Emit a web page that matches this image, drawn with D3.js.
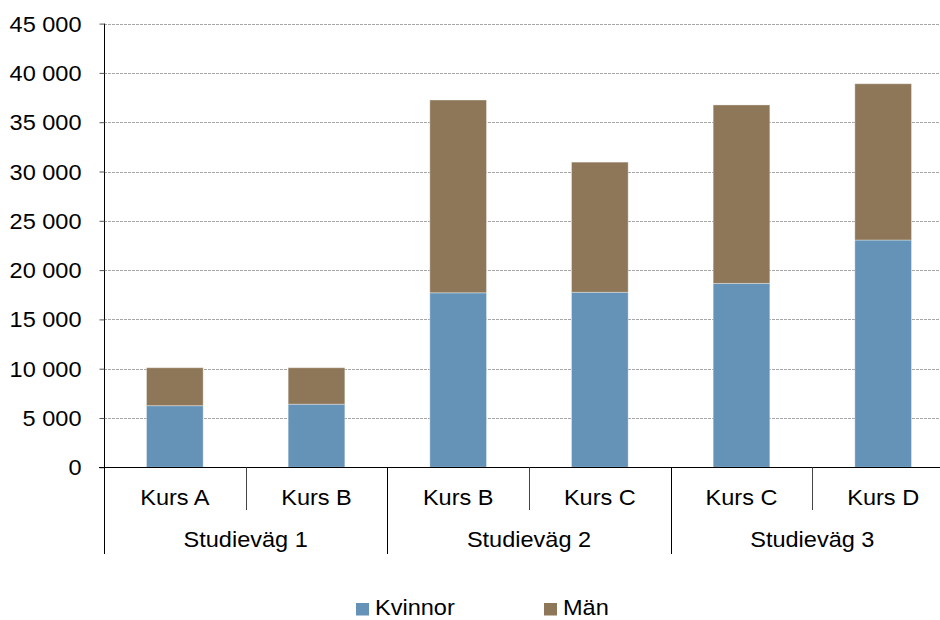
<!DOCTYPE html>
<html>
<head>
<meta charset="utf-8">
<script src="https://cdn.jsdelivr.net/npm/d3@7"></script>
<style>
  html, body { margin: 0; padding: 0; background: #fff; }
  svg text { font-family: "Liberation Sans", Arial, sans-serif; fill: #000; }
</style>
</head>
<body>
<svg id="chart" width="940" height="620"></svg>
<script>
const groups = ["Studieväg 1", "Studieväg 2", "Studieväg 3"];
const courses = ["Kurs A", "Kurs B", "Kurs B", "Kurs C", "Kurs C", "Kurs D"];
const courseGroup = [0, 0, 1, 1, 2, 2];
const kvinnor = [6250, 6400, 17700, 17750, 18650, 23050];
const man = [3850, 3700, 19550, 13200, 18100, 15850];
const seriesNames = ["Kvinnor", "Män"];
const seriesColors = ["#6593b7", "#8e7759"];
const yTicks = [0, 5000, 10000, 15000, 20000, 25000, 30000, 35000, 40000, 45000];

(function () {
const svg = d3.select("#chart");
const pLeft = 104, pRight = 954, pTop = 23.6, pBottom = 467.3;
const FS = 22, SX = 1.07;

const x = d3.scaleBand().domain(d3.range(courses.length)).range([pLeft, pRight])
  .paddingInner(0.6).paddingOuter(0.3);
const y = d3.scaleLinear().domain([0, 45000]).range([pBottom, pTop]);

const locale = d3.formatLocale({ decimal: ",", thousands: " ", grouping: [3], currency: ["", ""] });
const fmt = locale.format(",d");

// gridlines
svg.append("g").selectAll("line").data(yTicks.filter(d => d > 0)).join("line")
  .attr("x1", pLeft).attr("x2", pRight)
  .attr("y1", d => Math.round(y(d)) + 0.5).attr("y2", d => Math.round(y(d)) + 0.5)
  .attr("stroke", "#a6a6a6").attr("stroke-width", 1).attr("stroke-dasharray", "3,1");

// stacked bars
const rows = courses.map((c, i) => ({ i, Kvinnor: kvinnor[i], "Män": man[i] }));
const stack = d3.stack().keys(seriesNames)(rows);
svg.append("g").selectAll("g").data(stack).join("g")
  .attr("fill", (d, k) => seriesColors[k])
  .selectAll("rect").data(d => d).join("rect")
  .attr("x", d => x(d.data.i))
  .attr("width", x.bandwidth())
  .attr("y", d => y(d[1]))
  .attr("height", d => y(d[0]) - y(d[1]))
  .attr("stroke", "rgba(255,255,255,0.35)").attr("stroke-width", 1);

// y axis
const yAxis = d3.axisLeft(y).tickValues(yTicks).tickFormat(fmt).tickSize(5).tickPadding(0);
const ya = svg.append("g").attr("transform", `translate(${pLeft + 0.5},0)`).call(yAxis);
ya.select(".domain").attr("stroke", "#000").attr("d", `M0,${pTop}V${pBottom}`);
ya.selectAll(".tick line").attr("stroke", "#555");
ya.selectAll(".tick text")
  .attr("x", null).attr("dy", null)
  .attr("transform", `translate(-23,7.5) scale(${SX},1)`)
  .attr("font-size", FS).attr("font-family", "Liberation Sans, Arial, sans-serif").attr("fill", "#000");

// x axis baseline
svg.append("line").attr("x1", pLeft - 5).attr("x2", pRight)
  .attr("y1", Math.round(pBottom) + 0.5).attr("y2", Math.round(pBottom) + 0.5)
  .attr("stroke", "#000").attr("stroke-width", 1);

// category separators
const step = x.step();
const sepG = svg.append("g");
for (let i = 0; i <= courses.length; i++) {
  const xx = Math.round(pLeft + i * step) + 0.5;
  const isGroupEdge = i === 0 || i === courses.length || courseGroup[i] !== courseGroup[i - 1];
  sepG.append("line").attr("x1", xx).attr("x2", xx)
    .attr("y1", pBottom).attr("y2", isGroupEdge ? 554 : 510)
    .attr("stroke", isGroupEdge ? "#000" : "#444").attr("stroke-width", 1);
}

// course labels
svg.append("g").selectAll("text").data(courses).join("text")
  .attr("transform", (d, i) => `translate(${x(i) + x.bandwidth() / 2},505) scale(${SX},1)`)
  .attr("text-anchor", "middle").attr("font-size", FS)
  .text(d => d);

// group labels
svg.append("g").selectAll("text").data(groups).join("text")
  .attr("transform", (d, g) => {
    const idx = courseGroup.map((v, i) => v === g ? i : -1).filter(i => i >= 0);
    const cx = pLeft + (idx[0] + (idx[idx.length - 1] + 1)) / 2 * step;
    return `translate(${cx},547) scale(${SX},1)`;
  })
  .attr("text-anchor", "middle").attr("font-size", FS)
  .text(d => d);

// legend
const legendX = [356, 544];
const lg = svg.append("g").selectAll("g").data(seriesNames).join("g")
  .attr("transform", (d, i) => `translate(${legendX[i]},0)`);
lg.append("rect").attr("x", 0).attr("y", 603).attr("width", 13).attr("height", 12.5)
  .attr("fill", (d, i) => seriesColors[i]);
lg.append("text").attr("transform", `translate(19,615) scale(${SX},1)`)
  .attr("font-size", FS).text(d => d);
})();
</script>
</body>
</html>
